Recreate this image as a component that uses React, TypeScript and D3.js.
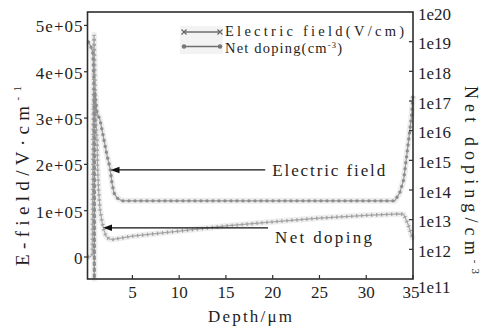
import React from 'react';
import * as d3 from 'd3';

const depthNd = [0.3, 0.55, 0.76, 0.82, 0.89, 0.93, 0.98, 1.22, 1.54, 1.96, 2.28, 2.61, 2.82, 3.03, 3.35, 3.89, 33.05, 33.58, 34.0, 34.4, 34.84, 35];
const netDoping = [9.8e18, 7e18, 4.5e18, 1.9e18, 4.1e17, 1.02e11, 2e17, 4e16, 2.3e16, 4.9e15, 1.5e15, 5.5e14, 1.7e14, 8e13, 5.4e13, 4.3e13, 4.3e13, 8e13, 2.2e14, 2.2e15, 3e16, 1.5e17];

// depth (um) / electric field (V/cm)
const depthE = [0.25, 0.5, 0.7, 0.78, 0.9, 0.95, 1.0, 1.06, 1.11, 1.22, 1.27, 1.38, 1.54, 1.75, 1.96, 2.18, 2.5, 2.93, 5, 10, 15, 20, 25, 30, 33.5, 34.0, 34.5, 35];
const eField = [0, 0.01e5, 0.04e5, 2.5e5, 4.8e5, 4.36e5, 3.82e5, 3.39e5, 2.96e5, 2.53e5, 1.98e5, 1.45e5, 1.02e5, 0.76e5, 0.58e5, 0.45e5, 0.39e5, 0.38e5, 0.45e5, 0.56e5, 0.67e5, 0.76e5, 0.84e5, 0.9e5, 0.93e5, 0.925e5, 0.69e5, 0.37e5];

const xTicks = [5, 10, 15, 20, 25, 30, 35];
const leftTicks = [0, 1e5, 2e5, 3e5, 4e5, 5e5];
const leftTickLabels = ['0', '1e+05', '2e+05', '3e+05', '4e+05', '5e+05'];
const rightTicks = [1e11, 1e12, 1e13, 1e14, 1e15, 1e16, 1e17, 1e18, 1e19, 1e20];
const rightTickLabels = ['1e11', '1e12', '1e13', '1e14', '1e15', '1e16', '1e17', '1e18', '1e19', '1e20'];

// annotation arrows, in data units (depth, field)
const annoLabels = ['Electric field', 'Net doping'];
const annoArrowY = [1.88e5, 0.63e5];
const annoArrowFrom = [19.2, 19.5];
const annoArrowTo = [2.66, 1.86];
const annoTextY = [1.75e5, 0.3e5];

export default class App extends React.Component {
  ref = React.createRef<SVGSVGElement>();

  sizing = {
    width: 492,
    height: 330,
    left: 87.5,
    right: 413,
    top: 12,
    bottom: 279,
  };

  font = '"Liberation Serif", "Times New Roman", serif';

  setupDom(): void {
    const svgNode = this.ref.current;
    if (!svgNode) return;
    const {left, right, top, bottom} = this.sizing;
    const svg = d3.select(svgNode);
    svg.selectAll('*').remove();

    const xScale = d3.scaleLinear().domain([0.2, 35]).range([left, right]);
    const yLeft = d3.scaleLinear().domain([-0.475e5, 5.29e5]).range([bottom, top]);
    const yRight = d3.scaleLog().domain([1e11, 1e20]).range([bottom, top]);

    const ndPts = depthNd.map((d, i) => [d, netDoping[i]] as [number, number]);
    const ePts = depthE.map((d, i) => [d, eField[i]] as [number, number]);
    const ndLine = d3.line<[number, number]>().x(d => xScale(d[0])).y(d => yRight(d[1]));
    const eLine = d3.line<[number, number]>().x(d => xScale(d[0])).y(d => yLeft(d[1]));

    const plot = svg.append('g');

    // soft halo like the scanned original
    plot.append('path').attr('d', ndLine(ndPts) as string).attr('fill', 'none')
      .attr('stroke', '#ededed').attr('stroke-width', 6).attr('stroke-linejoin', 'round');
    plot.append('path').attr('d', eLine(ePts) as string).attr('fill', 'none')
      .attr('stroke', '#efefef').attr('stroke-width', 6).attr('stroke-linejoin', 'round');

    // electric field: line with x-ish tick markers
    plot.append('path').attr('d', eLine(ePts) as string).attr('fill', 'none')
      .attr('stroke', '#a8a8a8').attr('stroke-width', 1.2);
    plot.append('path').attr('d', eLine(ePts) as string).attr('fill', 'none')
      .attr('stroke', '#9c9c9c').attr('stroke-width', 3.6)
      .attr('stroke-dasharray', '1.2 3.8');

    // net doping: line with dot markers
    plot.append('path').attr('d', ndLine(ndPts) as string).attr('fill', 'none')
      .attr('stroke', '#9c9c9c').attr('stroke-width', 1.2);
    plot.append('path').attr('d', ndLine(ndPts) as string).attr('fill', 'none')
      .attr('stroke', '#8c8c8c').attr('stroke-width', 3.4)
      .attr('stroke-linecap', 'round').attr('stroke-dasharray', '0 6');

    // frame
    svg.append('rect')
      .attr('x', left).attr('y', top)
      .attr('width', right - left).attr('height', bottom - top)
      .attr('fill', 'none').attr('stroke', '#2e2e2e').attr('stroke-width', 1.6);

    const textColor = '#1e1e1e';

    // bottom axis: inward ticks
    xTicks.forEach(t => {
      svg.append('line').attr('x1', xScale(t)).attr('x2', xScale(t))
        .attr('y1', bottom).attr('y2', bottom - 4).attr('stroke', '#2e2e2e').attr('stroke-width', 1.2);
      svg.append('text').attr('x', xScale(t) - (t === 35 ? 2 : 0)).attr('y', 298)
        .attr('text-anchor', 'middle').attr('font-family', this.font).attr('font-size', 17)
        .attr('fill', textColor).text(String(t));
    });

    // left axis: outward ticks
    leftTicks.forEach((t, i) => {
      svg.append('line').attr('x1', left).attr('x2', left - 3.5)
        .attr('y1', yLeft(t)).attr('y2', yLeft(t)).attr('stroke', '#2e2e2e').attr('stroke-width', 1.2);
      svg.append('text').attr('x', left - 4).attr('y', yLeft(t) + 7)
        .attr('text-anchor', 'end').attr('font-family', this.font).attr('font-size', 17)
        .attr('letter-spacing', 1).attr('fill', textColor).text(leftTickLabels[i]);
    });

    // right axis: inward ticks
    rightTicks.forEach((t, i) => {
      const y = yRight(t);
      if (i > 0 && i < rightTicks.length - 1) {
        svg.append('line').attr('x1', right).attr('x2', right - 4)
          .attr('y1', y).attr('y2', y).attr('stroke', '#2e2e2e').attr('stroke-width', 1.2);
      }
      svg.append('text').attr('x', right + 5).attr('y', y + (i === 0 ? 14 : 7.5))
        .attr('font-family', this.font).attr('font-size', 17)
        .attr('fill', textColor).text(rightTickLabels[i]);
    });

    // axis titles
    svg.append('text').attr('x', 208).attr('y', 322)
      .attr('font-family', this.font).attr('font-size', 17).attr('fill', textColor)
      .attr('textLength', 84).attr('lengthAdjust', 'spacing')
      .text('Depth/\u03bcm');

    const lt = svg.append('text')
      .attr('transform', 'translate(29, 176) rotate(-90)')
      .attr('text-anchor', 'middle').attr('font-family', this.font).attr('font-size', 19)
      .attr('fill', textColor).attr('textLength', 180).attr('lengthAdjust', 'spacing');
    lt.append('tspan').text('E-field/V\u00b7cm');
    lt.append('tspan').attr('dy', -8).attr('font-size', 11).text('-1');

    const rt = svg.append('text')
      .attr('transform', 'translate(465, 180) rotate(90)')
      .attr('text-anchor', 'middle').attr('font-family', this.font).attr('font-size', 18)
      .attr('fill', textColor).attr('textLength', 188).attr('lengthAdjust', 'spacing');
    rt.append('tspan').text('Net doping/cm');
    rt.append('tspan').attr('dy', -7).attr('font-size', 11).text('-3');

    // annotations
    annoLabels.forEach((label, i) => {
      const y = yLeft(annoArrowY[i]);
      const x0 = xScale(annoArrowFrom[i]);
      const x1 = xScale(annoArrowTo[i]);
      svg.append('line').attr('x1', x0).attr('x2', x1 + 7).attr('y1', y).attr('y2', y)
        .attr('stroke', '#111').attr('stroke-width', 1.3);
      svg.append('path')
        .attr('d', `M${x1},${y} L${x1 + 9},${y - 3.2} L${x1 + 9},${y + 3.2} Z`)
        .attr('fill', '#111');
      svg.append('text').attr('x', xScale(annoArrowFrom[i]) + 7).attr('y', yLeft(annoTextY[i]))
        .attr('font-family', this.font).attr('font-size', 17).attr('fill', textColor)
        .attr('textLength', i === 0 ? 113 : 97).attr('lengthAdjust', 'spacing')
        .text(label);
    });

    // legend
    const lg = svg.append('g');
    lg.append('rect').attr('x', 180).attr('y', 26).attr('width', 43).attr('height', 28)
      .attr('fill', '#f3f3f3');
    const rows = [32, 46.5];
    rows.forEach((ry, i) => {
      lg.append('line').attr('x1', 184).attr('x2', 220).attr('y1', ry).attr('y2', ry)
        .attr('stroke', '#6e6e6e').attr('stroke-width', 1.4);
      [184, 220].forEach(mx => {
        if (i === 0) {
          lg.append('path')
            .attr('d', `M${mx - 2.5},${ry - 2.5} L${mx + 2.5},${ry + 2.5} M${mx - 2.5},${ry + 2.5} L${mx + 2.5},${ry - 2.5}`)
            .attr('stroke', '#666').attr('stroke-width', 1.2);
        } else {
          lg.append('circle').attr('cx', mx).attr('cy', ry).attr('r', 2.3).attr('fill', '#777');
        }
      });
    });
    lg.append('text').attr('x', 225).attr('y', 35.5).attr('font-family', this.font).attr('font-size', 14.5)
      .attr('fill', textColor).attr('textLength', 179).attr('lengthAdjust', 'spacing')
      .text('Electric field(V/cm)');
    const nd = lg.append('text').attr('x', 225).attr('y', 52.5).attr('font-family', this.font).attr('font-size', 14.5)
      .attr('fill', textColor).attr('textLength', 117).attr('lengthAdjust', 'spacing');
    nd.append('tspan').text('Net doping(cm');
    nd.append('tspan').attr('dy', -5).attr('font-size', 8.5).text('-3');
    nd.append('tspan').attr('dy', 5).text(')');
  }

  componentDidMount(): void {
    this.setupDom();
  }

  render(): React.ReactNode {
    return (
      <svg
        ref={this.ref}
        width={this.sizing.width}
        height={this.sizing.height}
        style={{position: 'absolute', left: 0, top: 0, background: '#fff'}}
      />
    );
  }
}
